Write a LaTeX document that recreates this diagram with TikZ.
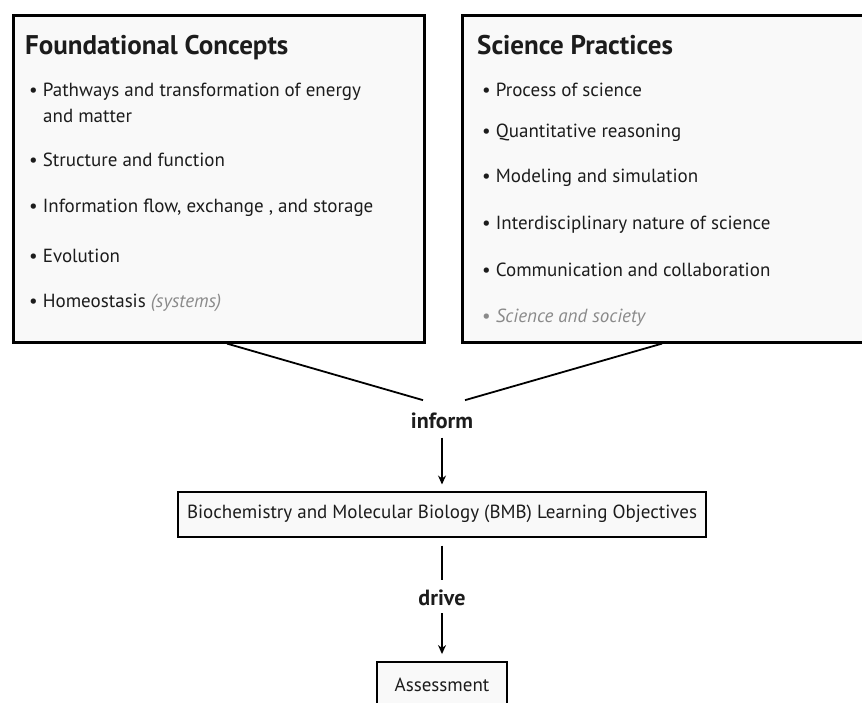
\documentclass[tikz,border=0pt]{standalone}
\usepackage{fontspec}
\setmainfont{PT Sans}
\usepackage{xcolor}
\usetikzlibrary{arrows.meta,positioning}
\definecolor{boxfill}{HTML}{F9F9F9}
\definecolor{inktext}{HTML}{1C1C1C}
\definecolor{softgray}{HTML}{8A8A8A}
\newcommand{\faded}[1]{\textcolor{softgray}{\itshape #1}}
\tikzset{
  post/.style={->,>={Stealth[length=9pt,width=8pt]},line width=1.4pt},
  link/.style={line width=1.8pt},
}

\begin{document}
\begin{tikzpicture}[x=1pt,y=1pt,
      topicbox/.style={draw,line width=2.6pt,fill=boxfill,minimum height=327pt,
        anchor=north west,inner sep=0pt},
      heading/.style={anchor=base west,inner sep=0pt,text=inktext,
        font=\fontsize{27}{32}\selectfont\bfseries},
      entry/.style={anchor=base west,inner sep=0pt,text=inktext,
        font=\fontsize{19}{23}\selectfont},
      flowbox/.style={draw,line width=2.2pt,fill=boxfill,inner sep=0pt,text=inktext,
        font=\fontsize{19}{23}\selectfont},
      verb/.style={inner sep=0pt,text=inktext,font=\fontsize{22}{26}\selectfont\bfseries},]
      \useasboundingbox[fill=white] (0,0) rectangle (862,-703);

      \node[topicbox,minimum width=411pt] (fc) at (12,-14) {};
      \node[topicbox,minimum width=419pt] (sp) at (461,-14) {};

      % left box
      \node[heading] (fctitle) at (25,-55) {Foundational Concepts};
      \node[entry] (fc1) at (29,-97) {\textbullet\ Pathways and transformation of energy};
      \node[entry] (fc1b) at (43,-123) {and matter};
      \node[entry] (fc2) at (29,-167) {\textbullet\ Structure and function};
      \node[entry] (fc3) at (29,-213) {\textbullet\ Information flow, exchange , and storage};
      \node[entry] (fc4) at (29,-263) {\textbullet\ Evolution};
      \node[entry] (fc5) at (29,-308) {\textbullet\ Homeostasis \faded{(systems)}};

      % right box
      \node[heading] (sptitle) at (477,-55) {Science Practices};
      \node[entry] (sp1) at (482,-97) {\textbullet\ Process of science};
      \node[entry] (sp2) at (482,-138) {\textbullet\ Quantitative reasoning};
      \node[entry] (sp3) at (482,-183) {\textbullet\ Modeling and simulation};
      \node[entry] (sp4) at (482,-230) {\textbullet\ Interdisciplinary nature of science};
      \node[entry] (sp5) at (482,-277) {\textbullet\ Communication and collaboration};
      \node[entry,text=softgray] (sp6) at (482,-323) {\textbullet\ \faded{Science and society}};

      % flow
      \node[verb,anchor=base] (inform) at (442,-428) {inform};
      \node[flowbox,minimum width=528pt,minimum height=45pt,below=62pt of inform] (bmb)
        {Biochemistry and Molecular Biology (BMB) Learning Objectives};
      \node[verb,below=52pt of bmb] (drive) {drive};
      \node[flowbox,minimum width=130pt,minimum height=46pt,below=55pt of drive] (assess)
        {Assessment};

      \draw[link] ([xshift=215pt]fc.south west) -- ([xshift=-19pt,yshift=12pt]inform.north);
      \draw[link] ([xshift=201pt]sp.south west) -- ([xshift=23pt,yshift=12pt]inform.north);
      \draw[post,shorten <=9pt,shorten >=6pt] (inform) -- (bmb);
      \draw[line width=1.4pt,shorten <=8pt,shorten >=10pt] (bmb) -- (drive);
      \draw[post,shorten <=7pt,shorten >=7pt] (drive) -- (assess);
\end{tikzpicture}
\end{document}
